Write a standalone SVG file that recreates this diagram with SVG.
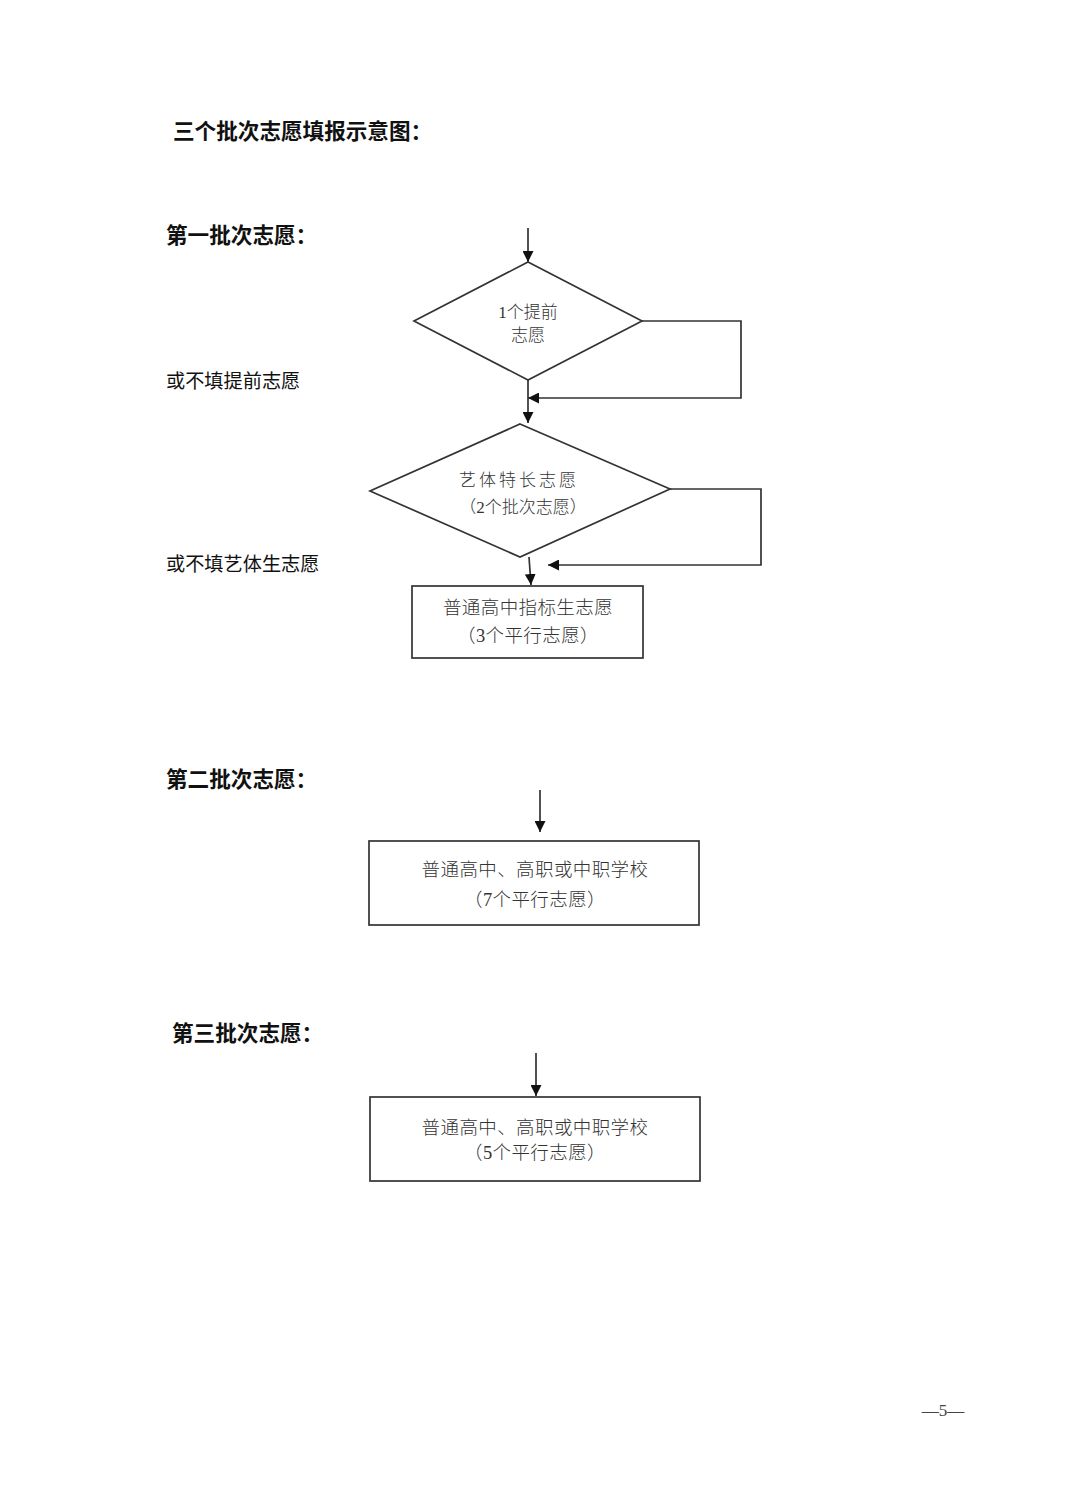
<svg xmlns="http://www.w3.org/2000/svg" width="1080" height="1491" viewBox="0 0 1080 1491">
<style>
.h{font-family:"Liberation Sans","Noto Sans CJK SC",sans-serif;font-weight:bold;font-size:21.6px;fill:#111}
.n{font-family:"Liberation Sans","Noto Sans CJK SC",sans-serif;font-size:19.2px;fill:#111}
.t{font-family:"Liberation Serif","Noto Sans CJK SC",serif;font-size:17px;fill:#333;text-anchor:middle;font-weight:300}
.b{font-size:18.5px;letter-spacing:0.4px}
.s{fill:#fff;stroke:#333;stroke-width:1.7}
.c{fill:none;stroke:#333;stroke-width:1.7}
</style>
<defs>
<marker id="a" viewBox="0 0 10 10" refX="10" refY="5" markerWidth="11" markerHeight="11" markerUnits="userSpaceOnUse" orient="auto"><path d="M0,0 L10,5 L0,10 z" fill="#111"/></marker>
</defs>
<rect width="1080" height="1491" fill="#fff"/>
<text class="h" x="173" y="139">三个批次志愿填报示意图：</text>
<text class="h" x="166" y="243">第一批次志愿：</text>
<text class="n" x="166" y="388">或不填提前志愿</text>
<text class="n" x="166" y="571">或不填艺体生志愿</text>
<text class="h" x="166" y="787">第二批次志愿：</text>
<text class="h" x="172" y="1041">第三批次志愿：</text>

<g id="connectors">
<line class="c" x1="528" y1="228" x2="528" y2="262" marker-end="url(#a)"/>
<polyline class="c" points="642,321 741,321 741,398 528,398" marker-end="url(#a)"/>
<line class="c" x1="528" y1="380" x2="528" y2="423" marker-end="url(#a)"/>
<polyline class="c" points="670,489 761,489 761,565 548,565" marker-end="url(#a)"/>
<line class="c" x1="529" y1="557" x2="531" y2="585" marker-end="url(#a)"/>
<line class="c" x1="540" y1="790" x2="540" y2="832" marker-end="url(#a)"/>
<line class="c" x1="536" y1="1053" x2="536" y2="1096" marker-end="url(#a)"/>
</g>

<g id="d1">
<polygon class="s" points="528,262 642,321 528,380 414,321"/>
<text class="t" x="528" y="318">1个提前</text>
<text class="t" x="528" y="341">志愿</text>
</g>
<g id="d2">
<polygon class="s" points="520,424 670,489 520,557 370,491"/>
<text class="t" x="519" y="486" letter-spacing="3">艺体特长志愿</text>
<text class="t" x="523" y="513">（2个批次志愿）</text>
</g>
<g id="b1">
<rect class="s" x="412" y="586" width="231" height="72"/>
<text class="t b" x="528" y="614">普通高中指标生志愿</text>
<text class="t b" x="528" y="642">（3个平行志愿）</text>
</g>
<g id="b2">
<rect class="s" x="369" y="841" width="330" height="84"/>
<text class="t b" x="535" y="876">普通高中、高职或中职学校</text>
<text class="t b" x="535" y="906" letter-spacing="1.5">（7个平行志愿）</text>
</g>
<g id="b3">
<rect class="s" x="370" y="1097" width="330" height="84"/>
<text class="t b" x="535" y="1134">普通高中、高职或中职学校</text>
<text class="t b" x="535" y="1159" letter-spacing="1.5">（5个平行志愿）</text>
</g>
<text x="943" y="1416" font-family="Liberation Serif,serif" font-size="17" fill="#444" text-anchor="middle">—5—</text>
</svg>
